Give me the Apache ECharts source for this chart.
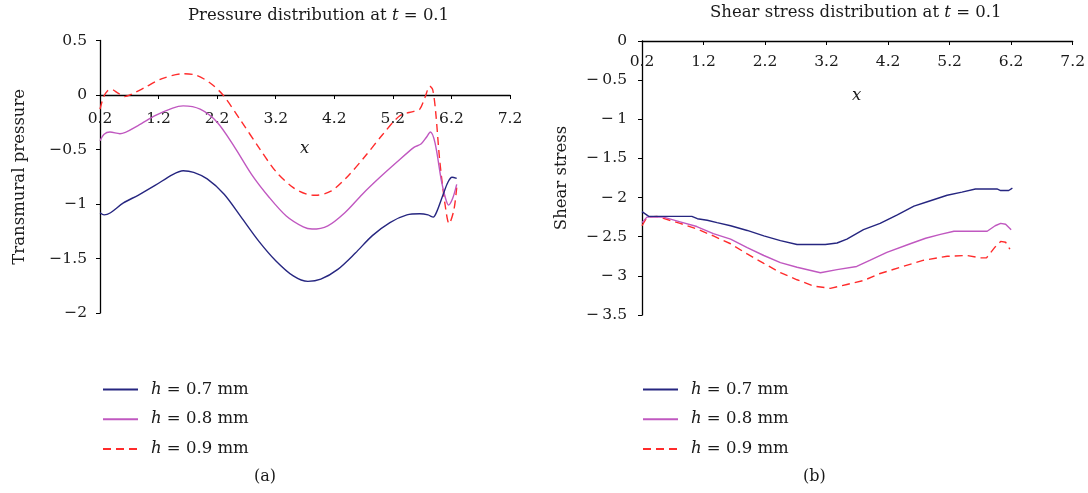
<!DOCTYPE html>
<html><head><meta charset="utf-8">
<script src="https://cdn.jsdelivr.net/npm/echarts@6/dist/echarts.min.js"></script>
<style>html,body{margin:0;padding:0;background:#fff}#c{width:1088px;height:493px}</style>
</head><body><div id="c"></div>
<script>
const seriesNames = ['h = 0.7 mm', 'h = 0.8 mm', 'h = 0.9 mm'];
const xTicks = [0.2, 1.2, 2.2, 3.2, 4.2, 5.2, 6.2, 7.2];

const pressureH07 = [[0.2,-1.08],[0.27,-1.10],[0.38,-1.08],[0.6,-0.99],[0.85,-0.92],[1.14,-0.83],[1.44,-0.73],[1.62,-0.695],[1.8,-0.71],[2.03,-0.77],[2.32,-0.91],[2.61,-1.12],[2.91,-1.34],[3.2,-1.52],[3.5,-1.66],[3.75,-1.71],[3.97,-1.69],[4.26,-1.60],[4.56,-1.45],[4.85,-1.29],[5.15,-1.17],[5.44,-1.10],[5.66,-1.09],[5.8,-1.10],[5.89,-1.12],[5.95,-1.07],[6.06,-0.91],[6.14,-0.80],[6.21,-0.755],[6.29,-0.765]];
const pressureH08 = [[0.2,-0.42],[0.27,-0.36],[0.37,-0.34],[0.54,-0.355],[0.85,-0.28],[1.14,-0.19],[1.44,-0.12],[1.62,-0.10],[1.91,-0.13],[2.2,-0.25],[2.5,-0.48],[2.79,-0.73],[3.09,-0.94],[3.38,-1.11],[3.67,-1.21],[3.82,-1.23],[4.09,-1.20],[4.38,-1.08],[4.68,-0.91],[4.97,-0.76],[5.26,-0.62],[5.56,-0.48],[5.68,-0.45],[5.77,-0.39],[5.84,-0.34],[5.92,-0.44],[6.03,-0.79],[6.1,-0.95],[6.15,-1.01],[6.22,-0.95],[6.29,-0.82]];
const pressureH09 = [[0.2,-0.13],[0.26,-0.02],[0.33,0.04],[0.4,0.05],[0.5,0.02],[0.62,-0.015],[0.75,0.01],[0.97,0.07],[1.26,0.15],[1.62,0.195],[1.85,0.18],[2.08,0.11],[2.3,0.0],[2.61,-0.24],[2.91,-0.48],[3.2,-0.70],[3.5,-0.85],[3.73,-0.91],[3.88,-0.92],[4.15,-0.88],[4.44,-0.74],[4.73,-0.56],[5.03,-0.36],[5.32,-0.19],[5.56,-0.15],[5.66,-0.13],[5.75,-0.02],[5.83,0.08],[5.88,0.05],[5.93,-0.15],[6.0,-0.6],[6.09,-1.0],[6.16,-1.18],[6.24,-1.06],[6.29,-0.85]];

const shearH07 = [[0.2,-2.18],[0.31,-2.24],[1.01,-2.24],[1.1,-2.27],[1.26,-2.29],[1.42,-2.32],[1.64,-2.36],[1.91,-2.42],[2.18,-2.49],[2.45,-2.55],[2.72,-2.60],[3.18,-2.60],[3.37,-2.58],[3.53,-2.53],[3.8,-2.41],[4.07,-2.33],[4.35,-2.22],[4.62,-2.11],[4.85,-2.05],[5.16,-1.97],[5.4,-1.93],[5.62,-1.89],[5.97,-1.89],[6.03,-1.91],[6.16,-1.91],[6.22,-1.88]];
const shearH08 = [[0.2,-2.32],[0.28,-2.25],[0.55,-2.25],[0.82,-2.31],[1.09,-2.37],[1.36,-2.46],[1.64,-2.53],[1.91,-2.64],[2.18,-2.74],[2.45,-2.83],[2.72,-2.89],[3.1,-2.96],[3.37,-2.92],[3.69,-2.88],[3.91,-2.80],[4.18,-2.70],[4.56,-2.59],[4.81,-2.52],[5.05,-2.47],[5.27,-2.43],[5.81,-2.43],[5.94,-2.36],[6.03,-2.33],[6.11,-2.34],[6.2,-2.41]];
const shearH09 = [[0.2,-2.36],[0.28,-2.25],[0.44,-2.24],[0.82,-2.33],[1.09,-2.40],[1.36,-2.49],[1.64,-2.59],[1.91,-2.72],[2.18,-2.84],[2.45,-2.96],[2.72,-3.05],[2.99,-3.13],[3.26,-3.16],[3.53,-3.11],[3.8,-3.06],[4.07,-2.97],[4.4,-2.89],[4.78,-2.80],[5.16,-2.75],[5.48,-2.74],[5.7,-2.77],[5.8,-2.77],[5.94,-2.63],[6.03,-2.56],[6.11,-2.57],[6.18,-2.66]];

const FONT = 'DejaVu Serif';
const INK = '#1a1a1a';
const colors = ['#262680', '#c058c0', '#ff2b2b'];
const lineTypes = ['solid', 'solid', [8, 5]];

const chart = echarts.init(document.getElementById('c'), null, {renderer: 'canvas'});

function minusFmt(sep) {
  return v => (v < 0 ? '\u2212' + sep + String(Math.abs(v)) : String(v));
}
// x axis drawn at y = 0 (top-positioned axis moved down by offset, labels/ticks inside)
function xAxisCfg(gridIndex, offset, margin) {
  return {
    type: 'value', gridIndex, min: 0.2, max: 7.2, position: 'top', offset,
    axisLine: {onZero: false, lineStyle: {color: '#000', width: 1.3}},
    axisTick: {show: true, inside: true, length: 4, customValues: xTicks, lineStyle: {color: '#000'}},
    axisLabel: {inside: true, customValues: xTicks, margin, color: INK, fontFamily: FONT, fontSize: 15.5,
      formatter: v => v.toFixed(1), showMinLabel: true, showMaxLabel: true},
    splitLine: {show: false}
  };
}
function yAxisCfg(gridIndex, min, max, name, sep, margin) {
  return {
    type: 'value', gridIndex, min, max, interval: 0.5,
    axisLine: {show: true, onZero: false, lineStyle: {color: '#000', width: 1.3}},
    axisTick: {show: true, length: 4, lineStyle: {color: '#000'}},
    axisLabel: {margin, color: INK, fontFamily: FONT, fontSize: 15.5, formatter: minusFmt(sep)},
    splitLine: {show: false},
    name, nameLocation: 'middle', nameGap: 72,
    nameTextStyle: {fontFamily: FONT, fontSize: 16.5, color: INK}
  };
}
function mkSeries(data, i, xi, smooth) {
  return {
    type: 'line', name: seriesNames[i], xAxisIndex: xi, yAxisIndex: xi,
    data, symbol: 'none', smooth, color: colors[i],
    lineStyle: {color: colors[i], width: 1.4, type: lineTypes[i]},
    z: 3 - i
  };
}
function legendCfg(left) {
  return {
    data: seriesNames, orient: 'vertical', left, top: 376,
    itemWidth: 35, itemHeight: 14, itemGap: 12.7, selectedMode: false,
    itemStyle: {opacity: 0},
    formatter: n => '{s| }{i|h}' + n.slice(1),
    textStyle: {fontFamily: FONT, fontSize: 16.5, color: INK,
      rich: {s: {width: 8, fontSize: 16.5}, i: {fontStyle: 'italic', fontFamily: FONT, fontSize: 16.5, color: INK}}}
  };
}
const titleStyle = {fontFamily: FONT, fontSize: 16.5, fontWeight: 'normal', color: INK,
  rich: {i: {fontStyle: 'italic', fontFamily: FONT, fontSize: 16.5, color: INK}}};
const xNameStyle = {fontFamily: FONT, fontSize: 16.5, fontStyle: 'italic', fontWeight: 'normal', color: INK};

chart.setOption({
  animation: false,
  backgroundColor: '#fff',
  title: [
    {text: 'Pressure distribution at {i|t} = 0.1', left: 183, top: 2, textStyle: titleStyle},
    {text: 'Shear stress distribution at {i|t} = 0.1', left: 705, top: -1, textStyle: titleStyle},
    {text: 'x', left: 295, top: 135, textStyle: xNameStyle},
    {text: 'x', left: 847, top: 82, textStyle: xNameStyle},
    {text: '(a)', left: 249, top: 464, textStyle: {fontFamily: FONT, fontSize: 16, fontWeight: 'normal', color: INK}},
    {text: '(b)', left: 798, top: 464, textStyle: {fontFamily: FONT, fontSize: 16, fontWeight: 'normal', color: INK}}
  ],
  legend: [legendCfg(97), legendCfg(637)],
  grid: [
    {left: 100, top: 40.5, width: 410, height: 272.5},
    {left: 642, top: 41, width: 431, height: 274}
  ],
  xAxis: [xAxisCfg(0, -54.5, 16), xAxisCfg(1, 0, 13)],
  yAxis: [
    yAxisCfg(0, -2, 0.5, 'Transmural pressure', '', 13),
    yAxisCfg(1, -3.5, 0, 'Shear stress', '\u2009', 15)
  ],
  series: [
    mkSeries(pressureH07, 0, 0, 0.3),
    mkSeries(pressureH08, 1, 0, 0.3),
    mkSeries(pressureH09, 2, 0, 0.3),
    mkSeries(shearH07, 0, 1, false),
    mkSeries(shearH08, 1, 1, false),
    mkSeries(shearH09, 2, 1, false)
  ]
});
</script>
</body></html>
